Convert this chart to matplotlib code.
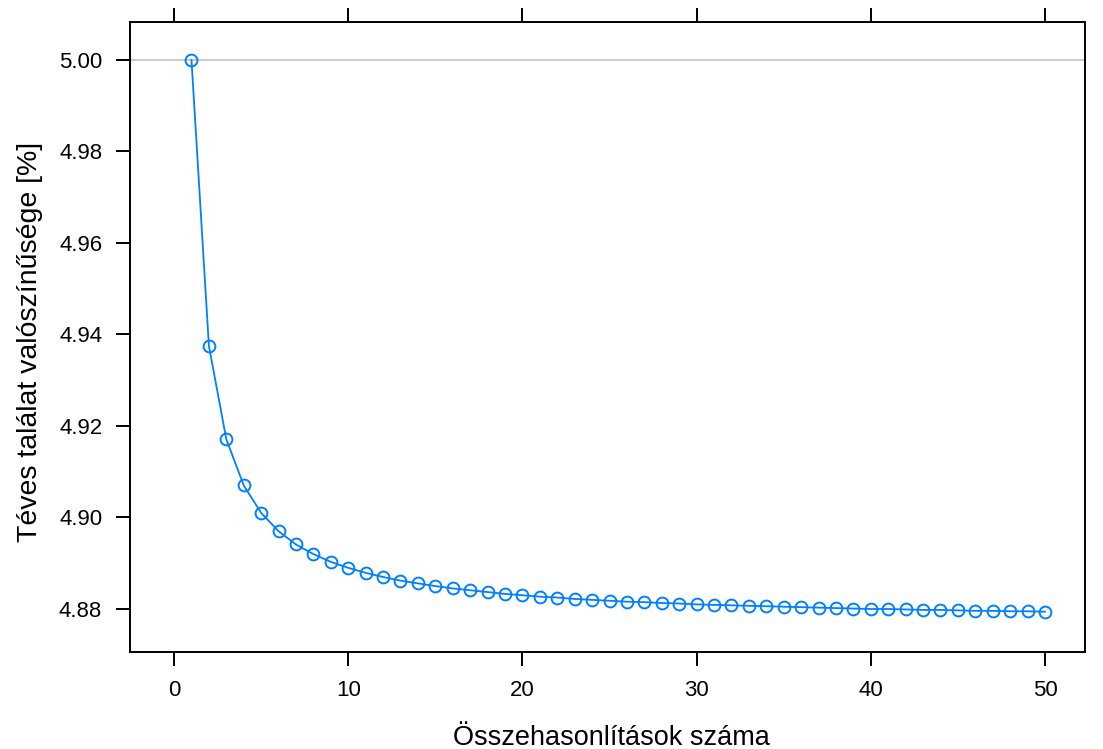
import matplotlib
matplotlib.use("Agg")
import matplotlib.pyplot as plt

plt.rcParams['font.family'] = ['Liberation Sans', 'DejaVu Sans']

n_comparisons = list(range(1, 51))
false_hit_pct = [
    5.0000, 4.9375, 4.9171, 4.9070, 4.9010, 4.8970, 4.8941, 4.8920, 4.8903, 4.8890,
    4.8879, 4.8870, 4.8862, 4.8856, 4.8850, 4.8845, 4.8841, 4.8837, 4.8833, 4.8830,
    4.8827, 4.8825, 4.8822, 4.8820, 4.8818, 4.8816, 4.8815, 4.8813, 4.8812, 4.8810,
    4.8809, 4.8808, 4.8807, 4.8806, 4.8805, 4.8804, 4.8803, 4.8802, 4.8801, 4.8800,
    4.8800, 4.8799, 4.8798, 4.8798, 4.8797, 4.8796, 4.8796, 4.8795, 4.8795, 4.8794,
]
x_ticks = [0, 10, 20, 30, 40, 50]
y_ticks = [4.88, 4.90, 4.92, 4.94, 4.96, 4.98, 5.00]
ref_line = 5.00
xlabel = "Összehasonlítások száma"
ylabel = "Téves találat valószínűsége [%]"

fig = plt.figure(figsize=(11.03, 7.49), dpi=100)
ax = fig.add_axes([130/1103, 1-652/749, (1085-130)/1103, (652-22)/749])

ax.axhline(ref_line, color='#cccccc', lw=1.5, zorder=1)
ax.plot(n_comparisons, false_hit_pct, color='#0080ff', lw=1.3, marker='o',
        markersize=8.5, markerfacecolor='none', markeredgecolor='#0080ff',
        markeredgewidth=1.4, zorder=3)

ax.set_xlim(-2.53, 52.3)
ax.set_ylim(4.8706, 5.0083)
ax.set_xticks(x_ticks)
ax.set_xticklabels([str(v) for v in x_ticks])
ax.set_yticks(y_ticks)
ax.set_yticklabels([f"{v:.2f}" for v in y_ticks])
ax.tick_params(axis='x', top=True, bottom=True, labeltop=False, direction='out',
               length=10, width=1.4, labelsize=16, pad=10)
ax.tick_params(axis='y', left=True, right=False, direction='out',
               length=10, width=1.4, labelsize=16, pad=10)
for s in ax.spines.values():
    s.set_linewidth(1.4)

fig.text(611/1103, 1-738/749, xlabel, ha='center', va='center', fontsize=19.5)
fig.text(30/1103, 1-342/749, ylabel, ha='center', va='center', fontsize=20.5, rotation=90)

fig.savefig("out.png", dpi=100)
